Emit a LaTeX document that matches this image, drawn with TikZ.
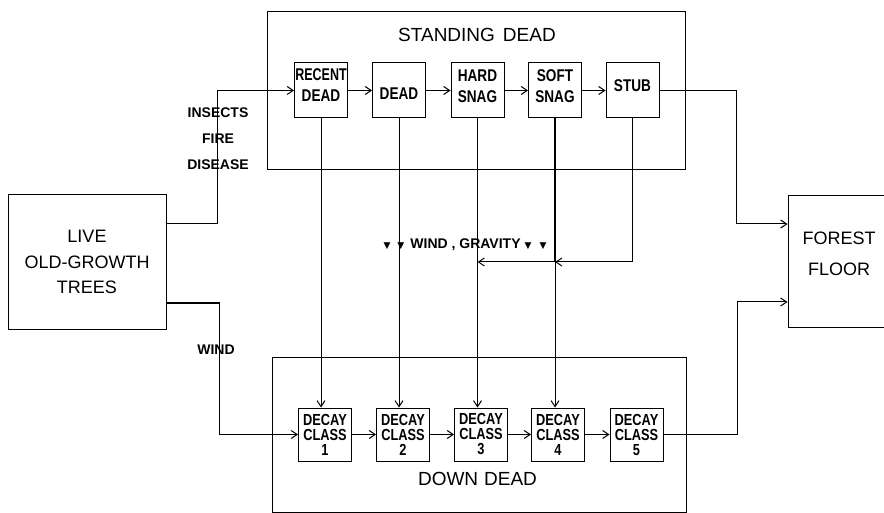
\documentclass[tikz,border=0pt]{standalone}
\usepackage{fontspec}
\setmainfont{Liberation Sans}
\newfontfamily\narrowsf[FakeStretch=0.8]{Liberation Sans}
\newfontfamily\slimsf[FakeStretch=0.8]{Liberation Sans}
\newfontfamily\symsf{DejaVu Sans}
\usetikzlibrary{arrows.meta}
% shift a line up or down, keeping its box
\newcommand\liftup[2]{\raisebox{#1}[\height][\depth]{#2}}
\newcommand\fallmark{{\symsf\fontsize{9}{9}\selectfont ▼}}
\tikzset{
  flow/.style={line width=1pt,-{Straight Barb[length=6pt,width=8pt]}},
  cell/.style={draw,line width=1pt,minimum width=53pt,minimum height=55pt,inner sep=0pt,
    align=center,font=\narrowsf\bfseries\fontsize{17}{21}\selectfont},
  decay/.style={cell,minimum height=53pt,font=\slimsf\bfseries\fontsize{16}{15}\selectfont},
  group/.style={draw,line width=1pt,inner sep=0pt},
  bigbox/.style={draw,line width=1pt,inner sep=0pt,align=center,font=\fontsize{18}{25.5}\selectfont},
  title/.style={font=\fontsize{19}{19}\selectfont,inner sep=0pt},
  cause/.style={font=\bfseries\fontsize{14}{14}\selectfont,inner sep=1pt},
}
\begin{document}
\begin{tikzpicture}[x=1pt,y=-1pt]
\useasboundingbox (0,0) rectangle (884,513);
\clip (0,0) rectangle (884,513);
%groups
\node[group,minimum width=418pt,minimum height=158pt] (standing) at (476,91) {};
\node[title] (standtitle) at (477,35) {STANDING\hspace{8pt}DEAD};
\node[group,minimum width=414pt,minimum height=155pt] (down) at (479,434.5) {};
\node[title] (downtitle) at (477.5,479) {DOWN\hspace{6pt}DEAD};
%standing dead
\node[cell] (recent) at (321,90.5) {\liftup{5.5pt}{\scalebox{0.92}[1]{RECENT}}\\\liftup{5.5pt}{DEAD}};
\node[cell] (dead) at (399,90.5) {\liftup{-3pt}{DEAD}};
\node[cell] (hard) at (477.5,90.5) {\liftup{4.5pt}{HARD}\\\liftup{4.5pt}{SNAG}};
\node[cell] (soft) at (555,90.5) {\liftup{4.5pt}{SOFT}\\\liftup{4.5pt}{SNAG}};
\node[cell] (stub) at (632.5,90.5) {\liftup{5pt}{STUB}};
%down dead
\node[decay] (dc1) at (325,434.5) {DECAY\\CLASS\\1};
\node[decay] (dc2) at (403,434.5) {DECAY\\CLASS\\2};
\node[decay] (dc3) at (481,434.5) {DECAY\\CLASS\\3};
\node[decay] (dc4) at (558,434.5) {DECAY\\CLASS\\4};
\node[decay] (dc5) at (636.5,434.5) {DECAY\\CLASS\\5};
%outer boxes
\node[bigbox,minimum width=158pt,minimum height=134pt] (live) at (87,262) {LIVE\\OLD-GROWTH\\TREES};
\node[bigbox,minimum width=102pt,minimum height=131pt,font=\fontsize{18}{31}\selectfont] (forest) at (839,261.5)
  {\liftup{8pt}{FOREST}\\\liftup{8pt}{FLOOR}};
%along the rows
\foreach \a/\b in {recent/dead,dead/hard,hard/soft,soft/stub,dc1/dc2,dc2/dc3,dc3/dc4,dc4/dc5}
  \draw[flow] (\a) -- (\b);
%from live trees
\draw[flow] ([yshift=38pt]live.east) -- ++(51,0) |- (recent.west);
\draw[flow] ([yshift=-41pt]live.east) -- ++(53,0) |- (dc1.west);
\node[cause] (insects) at (218,113) {INSECTS};
\node[cause] (fire) at (218,139) {FIRE};
\node[cause] (disease) at (218,165) {DISEASE};
\node[cause] (wind) at (216,350) {WIND};
%falling
\foreach \s/\d in {recent/dc1,dead/dc2,hard/dc3}
  \draw[flow] (\s.south) -- (\s.south |- \d.north);
\coordinate (fall) at (0,262);
\draw[line width=2.4pt] (soft.south) -- (soft.south |- fall);
\draw[flow] (soft.south |- fall) -- (soft.south |- dc4.north);
\draw[flow] (stub.south) |- (soft.south |- fall);
\draw[flow] (soft.south |- fall) -- (hard.south |- fall);
\node[cause] (gravity) at (465,245) {\fallmark\hspace{7pt}\fallmark\hspace{6pt}WIND , GRAVITY\hspace{4pt}\fallmark\hspace{8pt}\fallmark};
%to forest floor
\draw[flow] (stub.east) -- ++(77,0) |- ([yshift=37.5pt]forest.west);
\draw[flow] (dc5.east) -- ++(74,0) |- ([yshift=-40.5pt]forest.west);
\end{tikzpicture}
\end{document}
